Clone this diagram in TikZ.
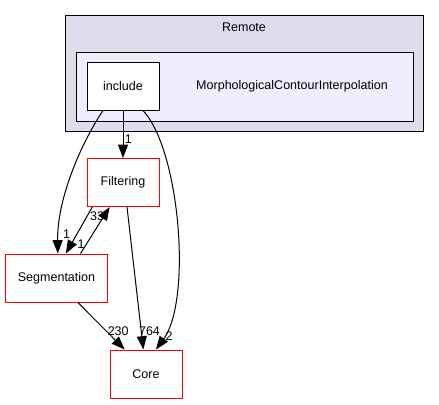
\documentclass[tikz,border=0pt]{standalone}
\usepackage{fontspec}
\setmainfont{Liberation Sans}
\usetikzlibrary{arrows.meta, positioning}
\definecolor{remotefill}{HTML}{DDDDEE}
\definecolor{modulefill}{HTML}{EEEEFF}

\begin{document}
\begin{tikzpicture}[x=0.75pt, y=-0.75pt, line width=0.75pt,
		>={Triangle[length=10pt, width=7.5pt]},
		every node/.style={font=\fontsize{9.4}{11}\selectfont},
		dirbox/.style={draw=red, fill=white, minimum height=36pt,
						minimum width=54pt, inner sep=0pt},
		edgelabel/.style={inner sep=1pt}]

			\useasboundingbox (0,0) rectangle (439,404);

			% Clusters
			\draw[fill=remotefill] (65,15) rectangle (423,131);
			\node (remote) at (244,27) {Remote};
			\draw[fill=modulefill] (76,52) rectangle (413,121);
			\node (morph) at (292,86) {MorphologicalContourInterpolation};

			% Directories
			\node (include) [dirbox, draw=black] at (123,86) {include};
			\node (filtering) [dirbox] at (123,182.5) {Filtering};
			\node (segmentation) [dirbox, minimum width=77pt] at (56.5,278) {Segmentation};
			\node (core) [dirbox] at (146,374) {Core};

			% Dependencies
			\draw[->] (include) -- (filtering) node[edgelabel, pos=0.6, right] {1};
			\draw[->] ([xshift=-15pt]include.south) .. controls (80,145) and (57,200) ..
				([xshift=1pt]segmentation.north) node[edgelabel, pos=0.88, right, xshift=2pt] {1};
			\draw[->] ([xshift=15pt]include.south) .. controls (180,150) and (192,300) ..
				([xshift=7.5pt]core.north) node[edgelabel, pos=0.92, right] {2};
			\draw[->] ([xshift=-23pt]filtering.south) -- ([xshift=7pt]segmentation.north)
				node[edgelabel, pos=0.2, right, xshift=1pt] {33};
			\draw[->] ([xshift=18pt]segmentation.north) -- ([xshift=-10pt]filtering.south)
				node[edgelabel, pos=0.2, left] {1};
			\draw[->] ([xshift=3pt]filtering.south) -- ([xshift=-2pt]core.north)
				node[edgelabel, pos=0.87, right, inner sep=0pt, xshift=-2pt] {764};
			\draw[->] ([xshift=16pt]segmentation.south) -- ([xshift=-16pt]core.north)
				node[edgelabel, pos=0.6, right] {230};

		\end{tikzpicture}
\end{document}
